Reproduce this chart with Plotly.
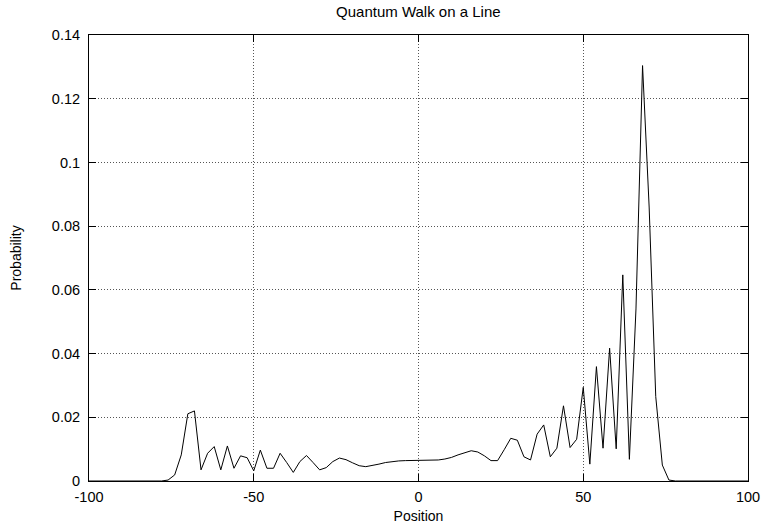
import plotly.graph_objects as go

positions = [-100, -78, -76, -74, -72, -70, -68, -66, -64, -62, -60, -58, -56, -54, -52,
             -50, -48, -46, -44, -42, -40, -38, -36, -34, -32, -30, -28, -26, -24, -22,
             -20, -18, -16, -14, -12, -10, -8, -6, -4, -2, 0, 2, 4, 6, 8, 10, 12, 14,
             16, 18, 20, 22, 24, 26, 28, 30, 32, 34, 36, 38, 40, 42, 44, 46, 48, 50,
             52, 54, 56, 58, 60, 62, 64, 66, 68, 70, 72, 74, 76, 78, 100]
probability = [0.0, 0.0, 0.0003, 0.0019, 0.0082, 0.0211, 0.0220, 0.0035, 0.0087, 0.0108,
               0.0035, 0.0110, 0.0040, 0.0079, 0.0073,
               0.0032, 0.0097, 0.0040, 0.0040, 0.0087, 0.0058, 0.0027, 0.0061, 0.0080,
               0.0058, 0.0035, 0.0042, 0.0061, 0.0072, 0.0067,
               0.0057, 0.0048, 0.0045, 0.0048, 0.0053, 0.0058, 0.0061, 0.0063, 0.0064,
               0.0064, 0.0064, 0.0064, 0.0064, 0.0066, 0.0069, 0.0074, 0.0082, 0.0089,
               0.0095, 0.0091, 0.0079, 0.0064, 0.0064, 0.0098, 0.0134, 0.0128, 0.0076,
               0.0066, 0.0147, 0.0176, 0.0076, 0.0103, 0.0236, 0.0105, 0.0131, 0.0294,
               0.0053, 0.0359, 0.0103, 0.0417, 0.0101, 0.0647, 0.0068, 0.0540, 0.1304,
               0.0860, 0.0265, 0.0050, 0.0003, 0.0, 0.0]

x_ticks = [-100, -50, 0, 50, 100]
x_tick_labels = ["-100", "-50", "0", "50", "100"]
y_ticks = [0, 0.02, 0.04, 0.06, 0.08, 0.10, 0.12, 0.14]
y_tick_labels = ["0", "0.02", "0.04", "0.06", "0.08", "0.1", "0.12", "0.14"]

font_family = "Liberation Sans, Arial, Helvetica, sans-serif"

fig = go.Figure()
fig.add_trace(go.Scatter(
    x=positions, y=probability, mode="lines",
    line=dict(color="black", width=1),
    showlegend=False,
))

axis_common = dict(
    showline=True, linecolor="black", linewidth=1, mirror="ticks",
    ticks="inside", ticklen=7, tickcolor="black", tickwidth=1,
    showgrid=True, gridcolor="#555555", griddash="1px,2px", gridwidth=1,
    zeroline=False, automargin=False,
    tickfont=dict(family=font_family, size=14.5, color="black"),
)

fig.update_layout(
    width=762, height=529,
    margin=dict(l=89, r=14, t=35, b=48),
    paper_bgcolor="white", plot_bgcolor="white",
    font=dict(family=font_family, size=14, color="black"),
    title=dict(text="Quantum Walk on a Line", x=0.549, xanchor="center",
               y=1 - 12 / 529, yanchor="middle",
               font=dict(family=font_family, size=15, color="black")),
    xaxis=dict(range=[-100, 100], tickvals=x_ticks, ticktext=x_tick_labels,
               ticklabelstandoff=3,
               title=dict(text="Position", standoff=6,
                          font=dict(family=font_family, size=14, color="black")),
               **axis_common),
    yaxis=dict(range=[0, 0.14], tickvals=y_ticks, ticktext=y_tick_labels,
               ticklabelstandoff=5,
               title=dict(text="Probability", standoff=26,
                          font=dict(family=font_family, size=14, color="black")),
               **axis_common),
)

fig.write_html("out.html")
